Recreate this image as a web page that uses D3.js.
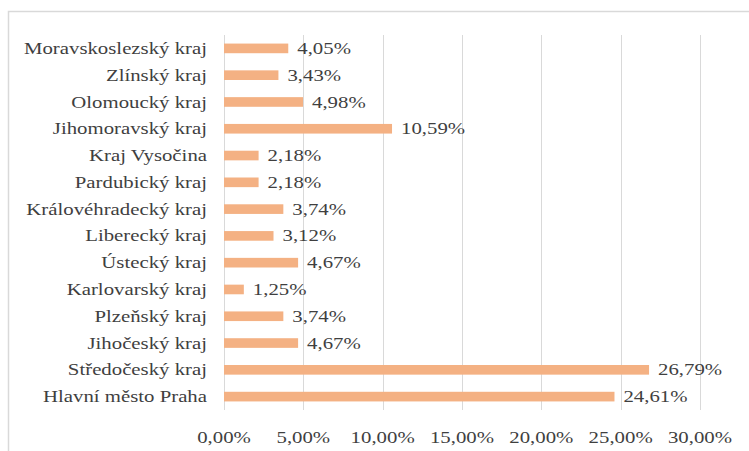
<!DOCTYPE html>
<html><head><meta charset="utf-8">
<script src="https://cdn.jsdelivr.net/npm/d3@7"></script>
<style>body{margin:0;background:#fff}svg{display:block}text{font-family:"Liberation Serif","Tinos","Times New Roman","Noto Serif","DejaVu Serif",serif}</style>
</head><body>
<svg id="c" width="749" height="451"></svg>
<script>
const categories = ["Moravskoslezský kraj","Zlínský kraj","Olomoucký kraj","Jihomoravský kraj","Kraj Vysočina","Pardubický kraj","Královéhradecký kraj","Liberecký kraj","Ústecký kraj","Karlovarský kraj","Plzeňský kraj","Jihočeský kraj","Středočeský kraj","Hlavní město Praha"];
const values = [4.05,3.43,4.98,10.59,2.18,2.18,3.74,3.12,4.67,1.25,3.74,4.67,26.79,24.61];
const ticks = [0,5,10,15,20,25,30];
const fmt = v => v.toFixed(2).replace(".", ",") + "%";

const svg = d3.select("#c");
svg.append("rect").attr("x",8.5).attr("y",11.5).attr("width",750).attr("height",460)
  .attr("fill","#fff").attr("stroke","#d9d9d9").attr("stroke-width",1.5);

const x = d3.scaleLinear().domain([0,30]).range([224,700]);
const y = d3.scaleBand().domain(categories).range([35,410]).paddingInner(0.64).paddingOuter(0.32);
const FS = 16, SX = 1.3, COL = "#3f3f3f";

svg.append("g").selectAll("line").data(ticks).join("line")
  .attr("x1",d=>Math.round(x(d))+0.5).attr("x2",d=>Math.round(x(d))+0.5)
  .attr("y1",35).attr("y2",410).attr("stroke","#d9d9d9").attr("stroke-width",1);

svg.append("g").selectAll("rect").data(values).join("rect")
  .attr("x",x(0)).attr("y",(d,i)=>y(categories[i]))
  .attr("width",d=>x(d)-x(0)).attr("height",y.bandwidth()).attr("fill","#F4B183");

svg.append("g").selectAll("text").data(values).join("text")
  .attr("transform",(d,i)=>`translate(${x(d)+9},${y(categories[i])+y.bandwidth()/2}) scale(${SX},1)`)
  .attr("dy","0.35em").attr("font-size",FS).attr("fill",COL)
  .text(fmt);

svg.append("g").selectAll("text").data(categories).join("text")
  .attr("transform",d=>`translate(207,${y(d)+y.bandwidth()/2}) scale(${SX},1)`)
  .attr("dy","0.35em").attr("text-anchor","end").attr("font-size",FS).attr("fill",COL)
  .text(d=>d);

svg.append("g").selectAll("text").data(ticks).join("text")
  .attr("transform",d=>`translate(${x(d)},443) scale(${SX},1)`)
  .attr("text-anchor","middle").attr("font-size",FS).attr("fill",COL)
  .text(d=>fmt(d));
</script>
</body></html>
